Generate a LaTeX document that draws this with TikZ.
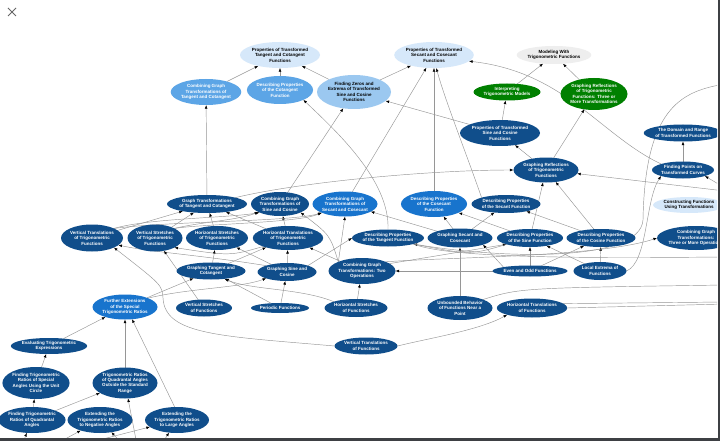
\documentclass[tikz,border=0pt]{standalone}
\usepackage{fontspec}
\setmainfont{Liberation Sans}
\usetikzlibrary{shapes.geometric,arrows.meta}
\pgfdeclarelayer{bg}
\pgfsetlayers{bg,main}
\definecolor{dk}{RGB}{16,78,139}
\definecolor{md}{RGB}{24,116,205}
\definecolor{lt}{RGB}{92,165,230}
\definecolor{lz}{RGB}{155,200,240}
\definecolor{vl}{RGB}{214,232,250}
\definecolor{gy}{RGB}{238,238,238}
\definecolor{gr}{RGB}{0,128,0}
\definecolor{eg}{RGB}{150,150,150}
\definecolor{frame}{RGB}{62,64,68}
\begin{document}
\begin{tikzpicture}[x=1pt,y=-1pt,
 n/.style={ellipse, inner sep=0pt, outer sep=0pt, align=center, font=\fontsize{4.5}{5.4}\selectfont\bfseries},
 dkn/.style={n, fill=dk, text=white},
 mdn/.style={n, fill=md, text=white},
 ltn/.style={n, fill=lt, text=white},
 lzn/.style={n, fill=lz, text=black},
 vln/.style={n, fill=vl, text=black},
 gyn/.style={n, fill=gy, text=black},
 grn/.style={n, fill=gr, text=white},
 sz/.style 2 args={minimum width=#1pt, minimum height=#2pt},
 e/.style={draw=eg, line width=0.45pt, -{Latex[length=3.6pt,width=2.8pt,color=black]}}]
\useasboundingbox (0,0) rectangle (720,441);
\begin{scope}
\clip (0,0) rectangle (717,437);
% top
\node[vln, sz={80}{26}] (ptTC) at (280,55) {Properties of Transformed\\Tangent and Cotangent\\Functions};
\node[vln, sz={78}{26}] (ptSC) at (434,55) {Properties of Transformed\\Secant and Cosecant\\Functions};
\node[gyn, sz={72}{18}] (model) at (554,55) {Modeling With\\Trigonometric Functions};
\node[ltn, sz={70}{26}] (cgTC) at (206,92) {Combining Graph\\Transformations of\\Tangent and Cotangent};
\node[ltn, sz={66}{28}] (dpCot) at (280,90) {Describing Properties\\of the Cotangent\\Function};
\node[lzn, sz={74}{34}] (fze) at (354,92) {Finding Zeros and\\Extrema of Transformed\\Sine and Cosine\\Functions};
\node[grn, sz={67}{17}] (itm) at (507,92) {Interpreting\\Trigonometric Models};
\node[grn, sz={67}{32}] (gr3) at (594,94) {Graphing Reflections\\of Trigonometric\\Functions: Three or\\More Transformations};
\node[dkn, sz={80}{26}] (ptSinCos) at (500,133) {Properties of Transformed\\Sine and Cosine\\Functions};
\node[dkn, sz={72}{17}] (drtf) at (683,133) {The Domain and Range\\of Transformed Functions};
\node[dkn, sz={65}{25}] (grtf) at (546,170) {Graphing Reflections\\of Trigonometric\\Functions};
\node[dkn, sz={62}{17}] (fptc) at (683,170) {Finding Points on\\Transformed Curves};
\node[vln, sz={66}{16}] (cfut) at (689,205) {Constructing Functions\\Using Transformations};
\node[dkn, sz={78}{24}] (cg3) at (696,238) {Combining Graph\\Transformations:\\Three or More Operations};
% row y=204
\node[dkn, sz={80}{18}] (gtTC) at (207,204) {Graph Transformations\\of Tangent and Cotangent};
\node[dkn, sz={58}{24}] (cgSC) at (280,204) {Combining Graph\\Transformations of\\Sine and Cosine};
\node[mdn, sz={65}{25}] (cgSecCsc) at (345,204) {Combining Graph\\Transformations of\\Secant and Cosecant};
\node[mdn, sz={66}{26}] (dpCsc) at (434,204) {Describing Properties\\of the Cosecant\\Function};
\node[dkn, sz={69}{18}] (dpSec) at (506,204) {Describing Properties\\of the Secant Function};
% row y=238
\node[dkn, sz={62}{27}] (vtTF) at (92,238) {Vertical Translations\\of Trigonometric\\Functions};
\node[dkn, sz={55}{27}] (vsTF) at (155,238) {Vertical Stretches\\of Trigonometric\\Functions};
\node[dkn, sz={62}{24}] (hsTF) at (217,238) {Horizontal Stretches\\of Trigonometric\\Functions};
\node[dkn, sz={70}{24}] (htTF) at (288,238) {Horizontal Translations\\of Trigonometric\\Functions};
\node[dkn, sz={72}{17}] (dpTan) at (388,238) {Describing Properties\\of the Tangent Function};
\node[dkn, sz={65}{19}] (gSecCsc) at (460,238) {Graphing Secant and\\Cosecant};
\node[dkn, sz={66}{18}] (dpSin) at (530,238) {Describing Properties\\of the Sine Function};
\node[dkn, sz={69}{18}] (dpCos) at (601,238) {Describing Properties\\of the Cosine Function};
% row y=271
\node[dkn, sz={69}{17}] (gTC) at (211,271) {Graphing Tangent and\\Cotangent};
\node[dkn, sz={59}{18}] (gSC) at (287,272) {Graphing Sine and\\Cosine};
\node[dkn, sz={67}{26}] (cg2) at (362,271) {Combining Graph\\Transformations: Two\\Operations};
\node[dkn, sz={75}{11}] (eof) at (530,271) {Even and Odd Functions};
\node[dkn, sz={53}{18}] (lef) at (600,271) {Local Extrema of\\Functions};
% row y=308
\node[mdn, sz={65}{25}] (fest) at (125,307) {Further Extensions\\of the Special\\Trigonometric Ratios};
\node[dkn, sz={56}{17}] (vsf) at (204,308) {Vertical Stretches\\of Functions};
\node[dkn, sz={58}{10}] (pf) at (280,308) {Periodic Functions};
\node[dkn, sz={63}{18}] (hsf) at (356,308) {Horizontal Stretches\\of Functions};
\node[dkn, sz={65}{24}] (ubf) at (460,308) {Unbounded Behavior\\of Functions Near a\\Point};
\node[dkn, sz={70}{19}] (htf) at (532,308) {Horizontal Translations\\of Functions};
\node[dkn, sz={63}{17}] (vtf) at (366,346) {Vertical Translations\\of Functions};
% left cluster
\node[dkn, sz={76}{16}] (ete) at (49,346) {Evaluating Trigonometric\\Expressions};
\node[dkn, sz={66}{32}] (ftrsa) at (36,383) {Finding Trigonometric\\Ratios of Special\\Angles Using the Unit\\Circle};
\node[dkn, sz={65}{31}] (trqa) at (125,383) {Trigonometric Ratios\\of Quadrantal Angles\\Outside the Standard\\Range};
\node[dkn, sz={65}{26}] (ftrqa) at (32,420) {Finding Trigonometric\\Ratios of Quadrantal\\Angles};
\node[dkn, sz={65}{26}] (etrna) at (100,420) {Extending the\\Trigonometric Ratios\\to Negative Angles};
\node[dkn, sz={64}{26}] (etrla) at (177,420) {Extending the\\Trigonometric Ratios\\to Large Angles};
\end{scope}
% off-picture ends
\coordinate (r1) at (725,188);
\coordinate (r2) at (725,191);
\coordinate (r3) at (725,304);
\coordinate (r3b) at (725,302);
\coordinate (r4) at (725,257);
\coordinate (r5) at (725,84);
\coordinate (r6) at (725,285);
\coordinate (b1) at (138,450);
\coordinate (b2) at (20,450);
\coordinate (b3) at (45,450);
\coordinate (b4) at (128,450);
\coordinate (b5) at (60,450);
\coordinate (b6) at (158,450);
\begin{pgfonlayer}{bg}
\fill[white] (0,0) rectangle (720,441);
\begin{scope}
\clip (0,0) rectangle (717,437);
\draw[e] (cgTC) -- (ptTC);
\draw[e] (dpCot) -- (ptTC);
\draw[e] (fze) -- (ptTC);
\draw[e] (fze) -- (ptSC);
\draw[e] (cgSecCsc) -- (ptSC);
\draw[e] (dpCsc) -- (ptSC);
\draw[e] (dpSec.north west) .. controls (465,150) and (445,100) .. (ptSC.-80);
\draw[e] (fptc.north west) .. controls (600,135) and (565,72) .. (ptSC.-10);
\draw[e] (itm) -- (model);
\draw[e] (gr3) -- (model);
\draw[e] (ptSinCos) -- (itm);
\draw[e] (grtf) -- (gr3);
\draw[e] (grtf) -- (ptSinCos);
\draw[e] (ptSinCos) -- (fze);
\draw[e] (cgSC) -- (fze);
\draw[e] (dpTan.north) .. controls (390,180) and (335,130) .. (dpCot.south east);
\draw[e] (gtTC) -- (cgTC);
\draw[e] (fptc) -- (drtf);
\draw[e] (r1) -- (fptc.south east);
\draw[e] (r2) -- (grtf);
\draw[e] (gtTC.north east) .. controls (300,182) and (430,170) .. (grtf.west);
\draw[e] (dpSin) -- (grtf);
\draw[e] (dpCos) -- (grtf);
\draw[e] (dpCos) -- (dpSec);
\draw[e] (gSecCsc) -- (dpSec);
\draw[e] (gSecCsc) -- (dpCsc);
\draw[e] (dpSin) -- (dpCsc);
\draw[e] (cg2.north west) -- (cgSecCsc.south);
\draw[e] (gSecCsc) -- (cgSecCsc);
\draw[e] (vtTF) -- (gtTC);
\draw[e] (vsTF) -- (gtTC);
\draw[e] (hsTF) -- (gtTC);
\draw[e] (htTF) -- (gtTC);
\draw[e] (htTF) -- (cgSC);
\draw[e] (vtTF.north east) .. controls (150,218) and (230,218) .. (cgSC.south west);
\draw[e] (vsTF.north east) .. controls (200,222) and (240,220) .. (cgSC.200);
\draw[e] (cg2.north west) .. controls (330,235) .. (cgSC.south east);
\draw[e] (vtTF.north east) .. controls (170,221) and (290,222) .. (cgSecCsc.south west);
\draw[e] (vsTF.north east) .. controls (200,224) and (300,223) .. (cgSecCsc.200);
\draw[e] (gTC) -- (hsTF);
\draw[e] (gSC) -- (hsTF);
\draw[e] (gSC) -- (htTF);
\draw[e] (cg2) -- (htTF);
\draw[e] (gTC) -- (htTF);
\draw[e] (fest) -- (gTC);
\draw[e] (fest.north east) .. controls (190,288) and (240,288) .. (gSC.south west);
\draw[e] (pf) -- (gSC);
\draw[e] (pf) -- (gTC);
\draw[e] (hsf.north west) .. controls (300,288) and (250,290) .. (gTC.-30);
\draw[e] (hsf) -- (cg2);
\draw[e] (ubf) -- (gSecCsc);
\draw[e] (eof) -- (dpSin);
\draw[e] (lef) -- (dpSin);
\draw[e] (lef) -- (dpCos);
\draw[e] (eof) -- (dpCos);
\draw[e] (lef.east) .. controls (648,262) and (645,200) .. (fptc.south west);
\draw[e] (cg2.north east) .. controls (450,257) and (600,257) .. (cg3.west);
\draw[e] (eof.west) -- (cg2.east);
\draw[e] (cg2.15) -- (dpSin.195);
\draw[e] (gSC.north east) -- (dpTan.west);
\draw[e] (dpSin.south west) .. controls (470,255) .. (dpTan.south east);
\draw[e] (eof.north west) -- (gSecCsc.south east);
\draw[e] (gSC.north west) .. controls (200,255) and (150,252) .. (vtTF.-15);
\draw[e] (htTF.south west) .. controls (230,256) .. (vsTF.south east);
\draw[e] (vsf) -- (vsTF);
\draw[e] (vtf.west) .. controls (220,336) and (165,335) .. (163,298) .. controls (162,285) .. (vtTF.south east);
\draw[e] (vtf.east) .. controls (430,338) and (480,330) .. (htf.south west);
\draw[e] (htf.east) -- (r3);
\draw[e] (htf.8) -- (r3b);
\draw[e] (dpTan.south east) .. controls (450,259) and (600,258) .. (r4);
\draw[e] (dpTan.south east) .. controls (500,259) and (640,263) .. (643,220) .. controls (645,110) and (680,92) .. (r5);
\draw[e] (ubf.north east) .. controls (520,288) .. (r6);
\draw[e] (ftrsa) -- (ete);
\draw[e] (ete) -- (fest);
\draw[e] (trqa) -- (fest);
\draw[e] (etrla.100) -- (fest.-60);
\draw[e] (ftrqa) -- (ftrsa);
\draw[e] (ftrqa) -- (trqa);
\draw[e] (b1) -- (trqa);
\draw[e] (b2) -- (ftrqa);
\draw[e] (b3) -- (etrna);
\draw[e] (b4) -- (etrna);
\draw[e] (b5) -- (etrla);
\draw[e] (b6) -- (etrla);
\end{scope}
\end{pgfonlayer}
% window frame and close mark
\fill[frame] (717.5,0) rectangle (720,441);
\fill[frame] (0,437.5) rectangle (720,441);
\draw[black!60, line width=1pt] (8,8) -- (16,16) (16,8) -- (8,16);
\end{tikzpicture}
\end{document}
